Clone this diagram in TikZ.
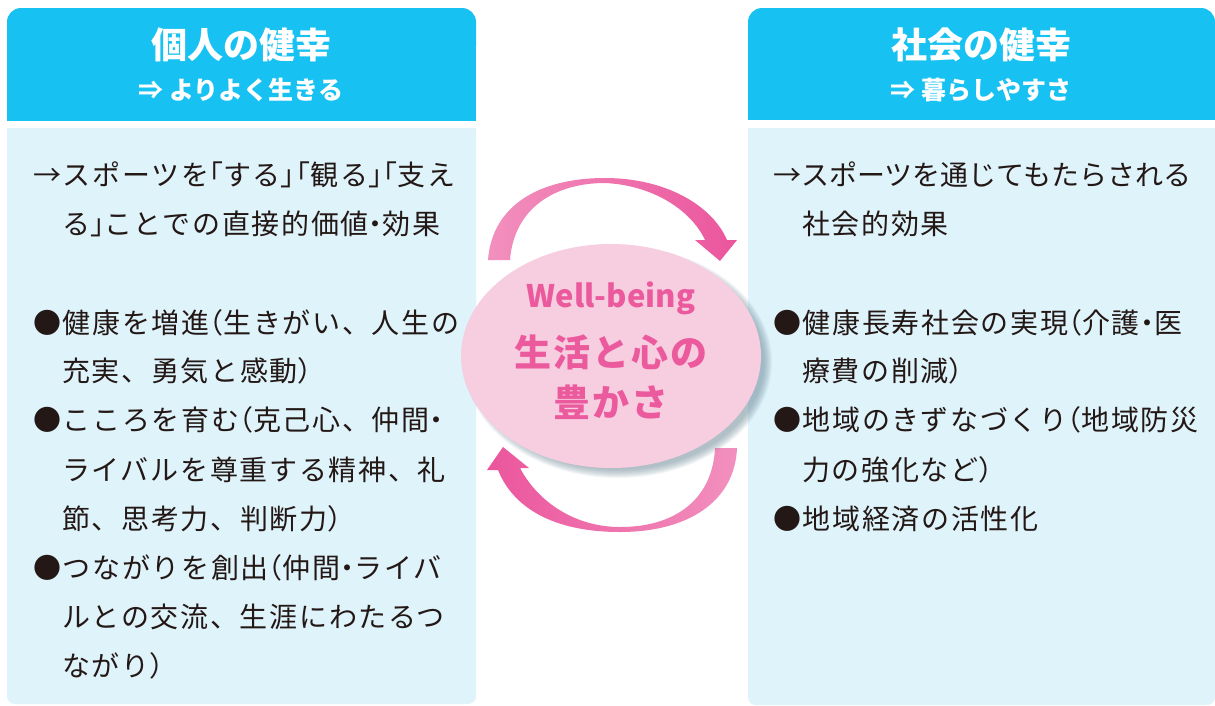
\documentclass[tikz,border=0pt]{standalone}
\usepackage{fontspec}
\newfontfamily\jp[LetterSpace=6]{Noto Sans CJK JP}
\newfontfamily\jph[RawFeature=+halt,LetterSpace=6]{Noto Sans CJK JP}
\newfontfamily\jpt{Noto Sans CJK JP}
\newfontfamily\jpc[LetterSpace=5]{Noto Sans CJK JP}
\newcommand\hw[1]{{\jph #1}}
\definecolor{hdr}{HTML}{17C1F1}
\definecolor{bodyblue}{HTML}{DFF3FB}
\definecolor{txt}{HTML}{231815}
\definecolor{pinktxt}{HTML}{EC5A9E}
\definecolor{pinkfill}{HTML}{F7CDE0}
\definecolor{arrowdark}{HTML}{EB559C}
\definecolor{arrowlight}{HTML}{F290BE}
\definecolor{shadowc}{HTML}{6F8C99}
\begin{document}
\begin{tikzpicture}[x=1pt,y=-1pt,
  txtline/.style={anchor=base west, inner sep=0pt, font=\jp\fontsize{28}{28}\selectfont, text=txt},
  hd/.style={text=white, inner sep=0pt, font=\jpt\bfseries\fontsize{36}{36}\selectfont},
  subhd/.style={text=white, inner sep=0pt, font=\jpt\bfseries\fontsize{25}{25}\selectfont},
  pinkt/.style={text=pinktxt, inner sep=0pt, font=\jpc\bfseries\fontsize{37}{37}\selectfont},
]
\useasboundingbox (0,0) rectangle (1215,705);
\fill[white] (0,0) rectangle (1215,705);

% ---------- left panel ----------
\fill[bodyblue, rounded corners=8pt] (7,128) rectangle (476,704);
\fill[bodyblue] (7,128) rectangle (476,150);
\fill[hdr, rounded corners=14pt] (7,8) rectangle (476,60);
\fill[hdr] (7,35) rectangle (476,121);
\node[hd] (lh) at (241,45) {個人の健幸};
\node[subhd] (ls) at (241,90) {⇒ よりよく生きる};

% ---------- right panel ----------
\fill[bodyblue, rounded corners=8pt] (748,128) rectangle (1215,705);
\fill[bodyblue] (748,128) rectangle (1215,150);
\fill[hdr, rounded corners=14pt] (748,8) rectangle (1215,60);
\fill[hdr] (748,35) rectangle (1215,120);
\node[hd] (rh) at (981,45) {社会の健幸};
\node[subhd] (rs) at (981,90) {⇒ 暮らしやすさ};

% ---------- left text ----------
\node[txtline] (l1) at (33,185) {→スポーツを\hw{「}する\hw{」「}観る\hw{」「}支え};
\node[txtline] (l2) at (62,234) {る\hw{」}ことでの直接的価値\hw{・}効果};
\node[txtline] (l3) at (33,333) {●健康を増進\hw{（}生きがい、人生の};
\node[txtline] (l4) at (62,381) {充実、勇気と感動\hw{）}};
\node[txtline] (l5) at (33,430) {●こころを育む\hw{（}克己心、仲間\hw{・}};
\node[txtline] (l6) at (62,480) {ライバルを尊重する精神、礼};
\node[txtline] (l7) at (62,529) {節、思考力、判断力\hw{）}};
\node[txtline] (l8) at (33,578) {●つながりを創出\hw{（}仲間\hw{・}ライバ};
\node[txtline] (l9) at (62,627) {ルとの交流、生涯にわたるつ};
\node[txtline] (l10) at (62,676) {ながり\hw{）}};

% ---------- right text ----------
\node[txtline, font=\jpt\fontsize{28}{28}\selectfont] (r1) at (773,185) {→スポーツを通じてもたらされる};
\node[txtline] (r2) at (802,234) {社会的効果};
\node[txtline] (r3) at (773,333) {●健康長寿社会の実現\hw{（}介護\hw{・}医};
\node[txtline] (r4) at (802,381) {療費の削減\hw{）}};
\node[txtline] (r5) at (773,430) {●地域のきずなづくり\hw{（}地域防災};
\node[txtline] (r6) at (802,480) {力の強化など\hw{）}};
\node[txtline] (r7) at (773,529) {●地域経済の活性化};

% ---------- arrows ----------
\shade[left color=arrowlight, right color=arrowdark]
  (488,260) .. controls (492,205) and (540,178) .. (605,178)
  .. controls (665,178) and (712,205) .. (727,240)
  -- (737,240) -- (720,261) -- (695,240) -- (705,240)
  .. controls (690,208) and (650,185) .. (605,183)
  .. controls (555,183) and (514,208) .. (510,260) -- cycle;
\shade[left color=arrowdark, right color=arrowlight]
  (737,448) .. controls (735,500) and (690,532) .. (620,532)
  .. controls (560,532) and (515,512) .. (498,470)
  -- (487,470) -- (503,447) -- (529,468) -- (520,468)
  .. controls (538,502) and (575,527) .. (620,527)
  .. controls (680,527) and (713,495) .. (715,448) -- cycle;

% ---------- central ellipse ----------
\foreach \k in {0,...,8}
  \fill[shadowc, opacity=0.08] (618,362) ellipse [x radius=146+\k, y radius=108+\k];
\fill[pinkfill] (611,356) ellipse [x radius=150, y radius=112];
\node[text=pinktxt, inner sep=0pt, font=\jpt\bfseries\fontsize{31}{31}\selectfont] (wb) at (611,298) {Well-being};
\node[pinkt] (c1) at (611,352) {生活と心の};
\node[pinkt] (c2) at (611,402) {豊かさ};
\end{tikzpicture}
\end{document}
